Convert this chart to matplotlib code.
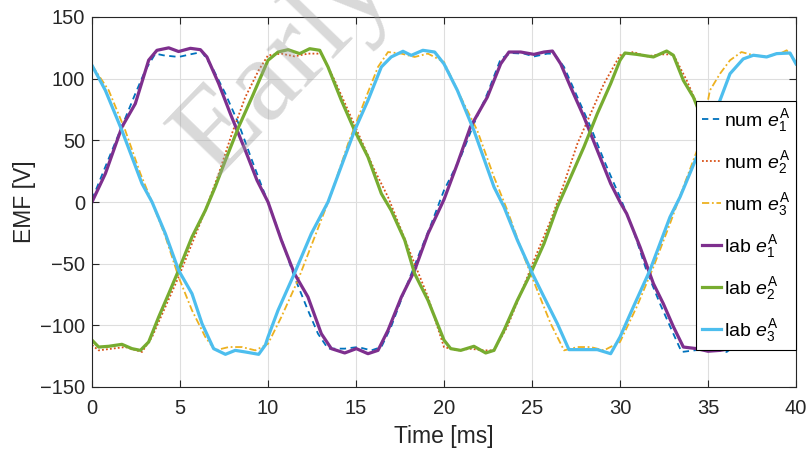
import matplotlib
matplotlib.use("Agg")
import matplotlib.pyplot as plt

plt.rcParams['font.family'] = ['Liberation Sans', 'DejaVu Sans']
plt.rcParams['mathtext.fontset'] = 'custom'
plt.rcParams['mathtext.rm'] = 'Liberation Sans'
plt.rcParams['mathtext.it'] = 'Liberation Sans:italic'

# ---------------- data ----------------
t_num1 = [0, 1.14, 2.46, 3.03, 3.6, 4.07, 4.92, 5.68, 6.25, 6.82, 7.58, 8.33, 9.09, 9.66, 10,
          10.76, 11.5, 12.27, 12.84, 13.41, 14.36, 15.11, 15.87, 16.44, 17.0, 17.77, 18.52, 19.28, 20,
          20.95, 21.7, 22.46, 23.22, 23.79, 24.55, 25.11, 25.87, 26.25, 26.82, 27.58, 28.33, 29.09, 29.66, 30,
          30.76, 31.5, 32.27, 33.03, 33.5, 34.4, 35.2, 36.06, 36.44, 37.0, 37.77, 38.52, 39.28, 40]
v_num1 = [2, 41.9, 87.8, 106.8, 120.3, 118.9, 117.6, 120, 121.6, 109.5, 87.8, 63.5, 33.8, 12.2, 0,
          -30, -60.8, -87.8, -106.8, -118.9, -118.9, -117.6, -120.3, -117.6, -101, -71.6, -44.6, -17.6, 9.5,
          36.5, 63.5, 87.8, 116, 120.8, 120.3, 118, 120.3, 120.3, 109.5, 85, 60.8, 33.8, 14.9, 4,
          -23, -55.4, -82.4, -106.8, -121.6, -120, -119, -121.6, -117.6, -101, -71.6, -44.6, -17.6, 9.5]

t_num2 = [0, 0.38, 1.14, 1.89, 2.84, 3.41, 4.17, 4.92, 5.68, 6.44, 7.2, 7.95, 8.71, 9.47, 10,
          10.76, 11.5, 12.27, 13.03, 13.79, 14.55, 15.3, 16.06, 16.82, 17.58, 18.33, 19.09, 19.6, 20,
          20.76, 21.5, 22.27, 22.84, 23.6, 24.36, 25.11, 26.06, 26.82, 27.58, 28.33, 29.09, 30,
          30.76, 31.5, 32.27, 33.03, 33.79, 34.45, 35.3, 36.06, 36.82, 37.58, 38.33, 39.09, 40]
v_num2 = [-116, -120.3, -118.9, -117.6, -121.6, -109.5, -85, -60.8, -33.8, -6.8, 23, 55.4, 85, 106.8, 118.9,
          120.3, 118.1, 120.3, 120.3, 98.6, 74.3, 50, 25.7, 4, -23, -50, -77, -100, -117.6,
          -120.3, -119, -120.3, -120.3, -101, -74.3, -47.3, -14.9, 14.9, 47.3, 71.6, 96, 118.9,
          121.6, 118, 119.7, 119.7, 98.6, 77, 50, 25.7, 4, -23, -50, -77, -116]

t_num3 = [0, 0.95, 1.89, 2.75, 3.41, 4.17, 4.92, 5.68, 6.44, 7.0, 7.77, 8.52, 9.28, 10,
          10.76, 11.7, 12.65, 13.6, 14.55, 15.5, 16.25, 16.82, 17.58, 18.33, 19.09, 20,
          20.95, 21.89, 22.84, 23.6, 24.55, 25.3, 26.06, 26.82, 27.58, 28.33, 29.09, 30,
          30.95, 31.9, 32.84, 33.6, 34.45, 34.8, 35.11, 35.68, 36.25, 36.9, 37.58, 38.33, 39.09, 39.47, 40]
v_num3 = [110.8, 90.5, 58, 23, 0, -28, -60.8, -87.8, -109.5, -120.3, -117.6, -117.6, -120.3, -115,
          -93.2, -63.5, -28.4, 6.8, 47.3, 82.4, 109.5, 121.6, 120.3, 117.6, 120.3, 113.5,
          85, 58, 20.3, -6.8, -44.6, -71.6, -98.6, -120.3, -117.6, -117.6, -120.3, -113.5,
          -85, -52.7, -17.6, 12.2, 44.6, 68, 90.5, 104, 114.9, 121.6, 119, 118, 120.3, 123, 113.5]

t_lab1 = [0, 0.76, 1.7, 2.46, 3.22, 3.69, 4.36, 4.92, 5.59, 6.16, 6.53, 7.2, 7.86, 8.71, 9.375, 10,
          10.76, 11.5, 12.27, 13.03, 13.6, 14.36, 15.02, 15.68, 16.25, 16.82, 17.58, 18.33, 19.09, 20,
          20.76, 21.5, 22.46, 23.22, 23.69, 24.36, 25.11, 25.68, 26.16, 26.63, 27.2, 27.95, 28.71, 29.47, 30,
          30.38, 31.14, 31.9, 32.46, 33.03, 33.6, 34.36, 35.0, 35.68, 36.25, 36.82, 37.58, 38.33, 39.09, 40]
v_lab1 = [0, 23, 60.8, 79.7, 115, 123, 125, 122, 124.6, 123.5, 117.6, 96, 71.6, 41.9, 17.6, 0,
          -31, -58, -77, -106.8, -118.9, -122.4, -118.9, -123, -120.3, -104, -77, -55.4, -25.7, 2,
          31, 60.8, 85, 112, 121.6, 121.6, 119.7, 121.6, 122.4, 112, 93, 69, 41.9, 14.9, 0,
          -9.5, -36.5, -66.2, -82.4, -101, -117.6, -118.9, -121, -120.3, -118.9, -104, -77, -55.4, -25.7, 3]

t_lab2 = [0, 0.38, 0.95, 1.7, 2.27, 2.75, 3.22, 3.79, 4.36, 4.92, 5.68, 6.44, 7.0, 7.58, 8.33, 9.09, 10,
          10.57, 11.14, 11.8, 12.37, 12.94, 13.41, 14.17, 14.92, 15.68, 16.44, 17.0, 17.77, 18.33, 19.09, 20,
          20.38, 20.95, 21.7, 22.37, 22.84, 23.41, 24.17, 24.92, 25.68, 26.44, 27.2, 27.95, 28.71, 29.47, 30,
          30.28, 30.95, 31.9, 32.65, 33.03, 33.6, 34.17, 34.55, 35.3, 36.06, 36.82, 37.58, 38.33, 39.09, 39.6, 40]
v_lab2 = [-112, -117.6, -117, -115.4, -118.9, -120.3, -113.5, -93.2, -74.3, -55.4, -28.4, -6.8, 12.2, 33.8, 60.8, 85, 114.9,
          121.6, 123.5, 120.3, 124.3, 123, 109.5, 82.4, 58, 36.5, 6.8, -6.8, -31, -58, -79.7, -112,
          -118.9, -120.3, -117, -122.4, -120.3, -104, -79.7, -58, -33.8, -4, 20.3, 44.6, 71.6, 96, 114.9,
          120.8, 119.7, 117.6, 122.4, 119, 98.6, 85, 71.6, 50, 25, 2, -22, -50, -78, -98, -111]

t_lab3 = [0, 0.76, 1.7, 2.84, 3.41, 4.17, 4.92, 5.68, 6.25, 6.91, 7.58, 8.14, 8.71, 9.47, 9.85, 10,
          10.57, 11.5, 12.46, 13.41, 14.36, 14.92, 15.68, 16.44, 17.0, 17.67, 18.14, 18.8, 19.47, 20,
          20.76, 21.7, 22.84, 23.41, 24.17, 25.02, 25.68, 26.44, 27.1, 27.95, 28.71, 29.47, 30,
          30.76, 31.7, 32.84, 33.41, 34.36, 34.92, 35.68, 36.25, 37.0, 37.58, 38.33, 38.9, 39.66, 40]
v_lab3 = [110.8, 90.5, 58, 14.9, 0, -25.7, -55.4, -74.3, -98.6, -118.9, -123.5, -120.3, -121.6, -123.5, -116, -109.5,
          -87.8, -58, -25.7, 0, 36.5, 58, 82.4, 109.5, 117.6, 122.2, 118.9, 123, 121.6, 112,
          90.5, 58, 12.2, -4, -31, -58, -77, -98.6, -119.7, -119.7, -119.7, -123, -109.5,
          -85, -55.4, -12.2, 4, 36.5, 58, 82.4, 104, 116, 119, 117.6, 120.3, 120.8, 112]

labels = [r'num $\mathit{e}_1^{\mathrm{A}}$', r'num $\mathit{e}_2^{\mathrm{A}}$', r'num $\mathit{e}_3^{\mathrm{A}}$',
          r'lab $\mathit{e}_1^{\mathrm{A}}$', r'lab $\mathit{e}_2^{\mathrm{A}}$', r'lab $\mathit{e}_3^{\mathrm{A}}$']
x_ticks = [0, 5, 10, 15, 20, 25, 30, 35, 40]
y_ticks = [-150, -100, -50, 0, 50, 100, 150]

# ---------------- figure ----------------
fig = plt.figure(figsize=(8.10, 4.54), dpi=100)
ax = fig.add_axes([92/810, 1-387/454, 704/810, 370/454])

dark = '#262626'
ax.plot(t_num1, v_num1, linestyle=(0, (3.5, 2.5)), color='#0072BD', lw=1.3, label=labels[0])
ax.plot(t_num2, v_num2, linestyle=(0, (1, 1.2)), color='#D95319', lw=1.3, label=labels[1])
ax.plot(t_num3, v_num3, linestyle=(0, (4, 1.5, 1, 1.5)), color='#EDB120', lw=1.3, label=labels[2])
ax.plot(t_lab1, v_lab1, '-', color='#7E2F8E', lw=2.3, label=labels[3])
ax.plot(t_lab2, v_lab2, '-', color='#77AC30', lw=2.3, label=labels[4])
ax.plot(t_lab3, v_lab3, '-', color='#4DBEEE', lw=2.3, label=labels[5])

ax.set_xlim(0, 40)
ax.set_ylim(-150, 150)
ax.set_xticks(x_ticks)
ax.set_yticks(y_ticks)
ax.grid(True, color='#dedede', lw=0.8)
ax.set_axisbelow(True)
ax.tick_params(direction='in', top=True, right=True, length=5, width=0.8,
               colors=dark, labelsize=14.5)
ax.tick_params(axis='x', pad=9)
ax.tick_params(axis='y', pad=5)
for s in ax.spines.values():
    s.set_color(dark)
    s.set_linewidth(0.8)
ax.set_xlabel('Time [ms]', fontsize=16.5, color=dark, labelpad=5)
ax.set_ylabel('EMF [V]', fontsize=16.5, color=dark, labelpad=3)

leg = ax.legend(loc='upper right', bbox_to_anchor=(1.0, (387-101)/370),
                fontsize=14, handlelength=1.0, handletextpad=0.15, borderpad=0.3,
                labelspacing=0.78, borderaxespad=0, fancybox=False, framealpha=1)
leg.get_frame().set_edgecolor('#000000')
leg.get_frame().set_linewidth(0.8)

# watermark
fig.text(217/810, 1-180/454, 'Early View', fontsize=86, family='Liberation Serif',
         color='#a0a0a0', alpha=0.4, rotation=46, rotation_mode='anchor',
         ha='left', va='baseline', zorder=10)

fig.savefig('out.png', dpi=100)
